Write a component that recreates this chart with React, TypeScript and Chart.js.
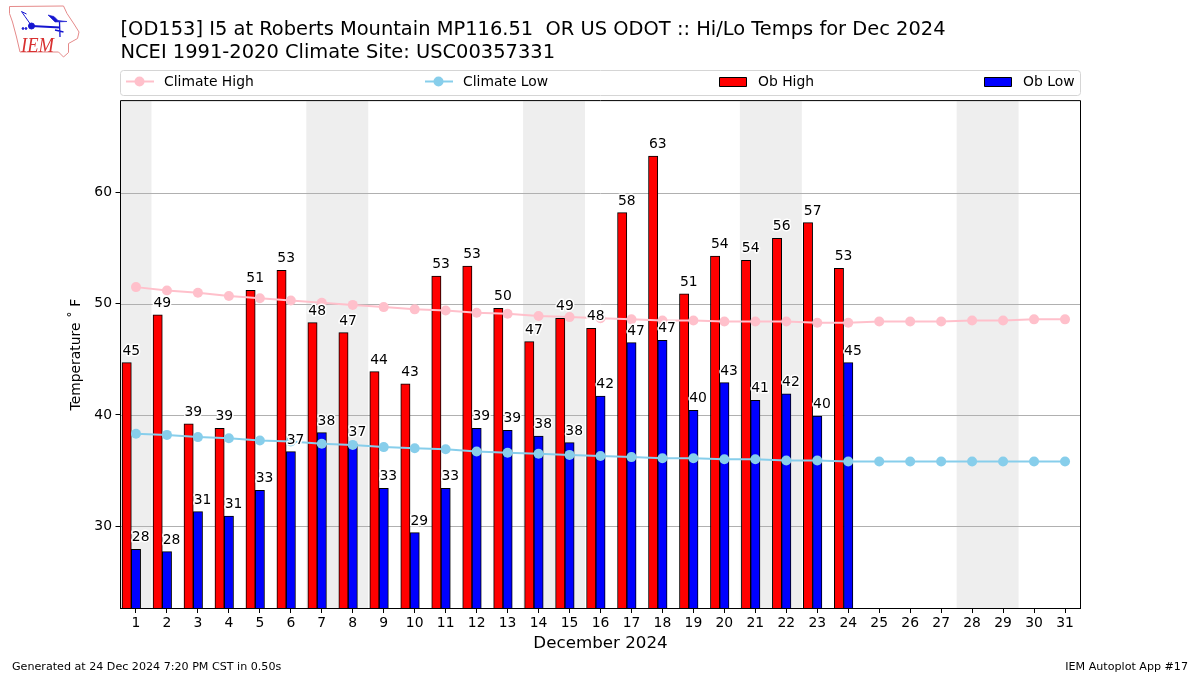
import React, { useEffect, useRef } from "react";
import { Chart, registerables } from "chart.js";

Chart.register(...registerables);

const FONT = "'DejaVu Sans'";
const titleLines = [
  "[OD153] I5 at Roberts Mountain MP116.51  OR US ODOT :: Hi/Lo Temps for Dec 2024",
  "NCEI 1991-2020 Climate Site: USC00357331",
];
const days = Array.from({ length: 31 }, (_, i) => i + 1);
const weekendRanges = [[0.5, 1.5], [6.5, 8.5], [13.5, 15.5], [20.5, 22.5], [27.5, 29.5]];
const yTicks = [30, 40, 50, 60];
const obHigh = [44.7, 49.0, 39.2, 38.8, 51.2, 53.0, 48.3, 47.4, 43.9, 42.8, 52.5, 53.4, 49.6, 46.6, 48.7, 47.8, 58.2, 63.3, 50.9, 54.3, 53.9, 55.9, 57.3, 53.2];
const obLow = [27.9, 27.7, 31.3, 30.9, 33.2, 36.7, 38.4, 37.4, 33.4, 29.4, 33.4, 38.8, 38.6, 38.1, 37.5, 41.7, 46.5, 46.7, 40.4, 42.9, 41.3, 41.9, 39.9, 44.7];
const climateHigh = [51.5, 51.2, 51.0, 50.7, 50.5, 50.3, 50.1, 49.9, 49.7, 49.5, 49.4, 49.2, 49.1, 48.9, 48.8, 48.7, 48.6, 48.5, 48.5, 48.4, 48.4, 48.4, 48.3, 48.3, 48.4, 48.4, 48.4, 48.5, 48.5, 48.6, 48.6];
const climateLow = [38.3, 38.2, 38.0, 37.9, 37.7, 37.6, 37.4, 37.3, 37.1, 37.0, 36.9, 36.7, 36.6, 36.5, 36.4, 36.3, 36.2, 36.1, 36.1, 36.0, 36.0, 35.9, 35.9, 35.8, 35.8, 35.8, 35.8, 35.8, 35.8, 35.8, 35.8];
const footerLeft = "Generated at 24 Dec 2024 7:20 PM CST in 0.50s";
const footerRight = "IEM Autoplot App #17";
const yRange = [22.62, 68.24];
const xRange = [0.5, 31.5];
const legendTextX = [164, 463, 758, 1023];
const legendKeyX = [126, 425, 719, 984];

const backgroundPlugin = {
  id: "weekends",
  beforeDatasetsDraw(chart: any) {
    const { ctx, chartArea, scales } = chart;
    ctx.save();
    ctx.fillStyle = "#eeeeee";
    for (const [a, b] of weekendRanges) {
      const x0 = scales.x.getPixelForValue(a);
      const x1 = scales.x.getPixelForValue(b);
      ctx.fillRect(x0, chartArea.top, x1 - x0, chartArea.bottom - chartArea.top);
    }
    // grid goes above the weekend shading
    ctx.strokeStyle = "#b0b0b0";
    ctx.lineWidth = 1;
    for (const t of yTicks) {
      const y = Math.round(scales.y.getPixelForValue(t)) + 0.5;
      ctx.beginPath();
      ctx.moveTo(chartArea.left, y);
      ctx.lineTo(chartArea.right, y);
      ctx.stroke();
    }
    ctx.restore();
  },
};

const overlayPlugin = {
  id: "overlay",
  afterDatasetsDraw(chart: any) {
    const { ctx, chartArea, scales } = chart;
    ctx.save();
    // value labels over the bars
    ctx.font = `13.9px ${FONT}`;
    ctx.textAlign = "center";
    ctx.textBaseline = "alphabetic";
    ctx.lineJoin = "round";
    chart.data.datasets.forEach((ds: any, di: number) => {
      if (ds.type !== "bar") return;
      const meta = chart.getDatasetMeta(di);
      meta.data.forEach((el: any, i: number) => {
        const px = scales.x.getPixelForValue(ds.data[i].x + 0.15);
        const py = el.y - 8;
        const txt = String(Math.round(ds.data[i].y));
        ctx.strokeStyle = "#ffffff";
        ctx.lineWidth = 3;
        ctx.strokeText(txt, px, py);
        ctx.fillStyle = "#000000";
        ctx.fillText(txt, px, py);
      });
    });
    // axes frame
    ctx.strokeStyle = "#000000";
    ctx.lineWidth = 1;
    ctx.strokeRect(chartArea.left, chartArea.top - 0.5, chartArea.right - chartArea.left, chartArea.bottom - chartArea.top + 1);

    // legend box
    const bx = 120.5, by = 70, bw = 960, bh = 25;
    ctx.strokeStyle = "#d5d5d5";
    ctx.beginPath();
    ctx.roundRect(bx, by + 0.5, bw, bh, 3);
    ctx.stroke();
    const cy = by + 11.5;
    ctx.font = `13.9px ${FONT}`;
    ctx.textAlign = "left";
    ctx.textBaseline = "alphabetic";
    chart.data.datasets.forEach((ds: any, i: number) => {
      const kx = legendKeyX[i];
      if (ds.type === "line") {
        ctx.strokeStyle = ds.borderColor;
        ctx.lineWidth = 2;
        ctx.beginPath();
        ctx.moveTo(kx, cy);
        ctx.lineTo(kx + 28, cy);
        ctx.stroke();
        ctx.fillStyle = ds.borderColor;
        ctx.beginPath();
        ctx.arc(kx + 13.5, cy, 5, 0, Math.PI * 2);
        ctx.fill();
      } else {
        ctx.fillStyle = ds.backgroundColor;
        ctx.fillRect(kx + 0.5, cy - 4, 27, 9);
        ctx.strokeStyle = "#000000";
        ctx.lineWidth = 1;
        ctx.strokeRect(kx + 0.5, cy - 4, 27, 9);
      }
      ctx.fillStyle = "#000000";
      ctx.fillText(ds.label, legendTextX[i], cy + 4.5);
    });

    // footers
    ctx.font = `11.12px ${FONT}`;
    ctx.fillStyle = "#000000";
    ctx.textAlign = "left";
    ctx.fillText(footerLeft, 12, 670);
    ctx.textAlign = "right";
    ctx.fillText(footerRight, 1188, 670);
    ctx.restore();
  },
};

function Logo() {
  return (
    <svg width={82} height={60} viewBox="0 0 82 60" style={{ position: "absolute", left: 0, top: 0 }}>
      <path
        d="M9.5 6.5 L63.5 6 L67 13.5 L74 24 L79 32 L77.5 38.5 L68.5 43.5 L68.5 52.5 L63.5 57 L58.5 52 L20 52 L16.5 37 L12.5 22 L9.5 13.5 Z"
        fill="none"
        stroke="#e58a8a"
        strokeWidth={1}
      />
      <g stroke="#1515d0" fill="#1515d0">
        <path d="M31.5 26 L60 27.5" strokeWidth={1.8} fill="none" />
        <circle cx={31.5} cy={26} r={3} />
        <path d="M48 15 L54 16.5 L58 20.5 L67 21.5 L55 22 Z" strokeWidth={0.6} />
        <path d="M31 25 L25 16.5 L21.5 11.5 M21.5 11.5 L26.5 14" strokeWidth={1} fill="none" />
        <path d="M59.5 22 L60 37 M55 30 L63.5 32" strokeWidth={1.3} fill="none" />
        <circle cx={23} cy={28.5} r={0.9} />
        <circle cx={26} cy={28.5} r={0.9} />
      </g>
      <text
        x={21}
        y={52}
        fontFamily="'Liberation Serif'"
        fontStyle="italic"
        fontSize={21}
        fill="#d83030"
        textLength={33}
        lengthAdjust="spacingAndGlyphs"
      >
        IEM
      </text>
    </svg>
  );
}

export default function App() {
  const ref = useRef<HTMLCanvasElement | null>(null);
  useEffect(() => {
    if (!ref.current) return;
    const chart = new Chart(ref.current, {
      type: "bar",
      plugins: [backgroundPlugin, overlayPlugin],
      data: {
        datasets: [
          {
            type: "line",
            label: "Climate High",
            data: days.map((d, i) => ({ x: d, y: climateHigh[i] })),
            borderColor: "#ffc0cb",
            backgroundColor: "#ffc0cb",
            borderWidth: 2,
            pointRadius: 5,
            pointBorderWidth: 0,
            order: 0,
          },
          {
            type: "line",
            label: "Climate Low",
            data: days.map((d, i) => ({ x: d, y: climateLow[i] })),
            borderColor: "#87ceeb",
            backgroundColor: "#87ceeb",
            borderWidth: 2,
            pointRadius: 5,
            pointBorderWidth: 0,
            order: 0,
          },
          {
            type: "bar",
            label: "Ob High",
            data: obHigh.map((v, i) => ({ x: days[i] - 0.3, y: v })),
            backgroundColor: "#ff0000",
            borderColor: "#000000",
            borderWidth: 1,
            borderSkipped: false,
            grouped: false,
            barPercentage: 1,
            categoryPercentage: 1,
            order: 1,
          },
          {
            type: "bar",
            label: "Ob Low",
            data: obLow.map((v, i) => ({ x: days[i], y: v })),
            backgroundColor: "#0000ff",
            borderColor: "#000000",
            borderWidth: 1,
            borderSkipped: false,
            grouped: false,
            barPercentage: 1,
            categoryPercentage: 1,
            order: 1,
          },
        ] as any,
      },
      options: {
        animation: false,
        responsive: false,
        maintainAspectRatio: false,
        layout: { padding: { left: 68.5, right: 119.5, top: 0, bottom: 20 } },
        plugins: {
          legend: { display: false },
          tooltip: { enabled: false },
          title: {
            display: true,
            text: titleLines,
            align: "start",
            fullSize: false,
            color: "#000000",
            font: { family: FONT, size: 19.45, weight: "normal", lineHeight: 1.16 },
            padding: { top: 19, bottom: 37 },
          },
        },
        scales: {
          x: {
            type: "linear",
            min: xRange[0],
            max: xRange[1],
            offset: false,
            afterBuildTicks: (s: any) => {
              s.ticks = days.map((v) => ({ value: v }));
            },
            afterFit: (s: any) => {
              s.height = 47;
            },
            grid: { offset: false, drawOnChartArea: false, tickLength: 5, tickColor: "#000000", tickWidth: 1 },
            border: { color: "#000000" },
            ticks: {
              autoSkip: false,
              maxRotation: 0,
              color: "#000000",
              padding: 2,
              font: { family: FONT, size: 13.9 },
              callback: (v: any) => String(v),
            },
            title: {
              display: true,
              text: "December 2024",
              color: "#000000",
              font: { family: FONT, size: 16.7 },
              padding: { top: 0, bottom: 1 },
            },
          },
          y: {
            min: yRange[0],
            max: yRange[1],
            afterBuildTicks: (s: any) => {
              s.ticks = yTicks.map((v) => ({ value: v }));
            },
            afterFit: (s: any) => {
              s.width = 52;
            },
            grid: { drawOnChartArea: false, tickLength: 5, tickColor: "#000000", tickWidth: 1 },
            border: { color: "#000000" },
            ticks: {
              color: "#000000",
              padding: 3.5,
              font: { family: FONT, size: 13.9 },
              callback: (v: any) => String(v),
            },
            title: {
              display: true,
              text: "Temperature ˚ F",
              color: "#000000",
              font: { family: FONT, size: 13.9 },
              padding: { top: 0, bottom: 0 },
            },
          },
        },
      } as any,
    });
    return () => chart.destroy();
  }, []);
  return (
    <div style={{ position: "absolute", left: 0, top: 0, width: 1200, height: 675, background: "#fff" }}>
      <canvas ref={ref} width={1200} height={675} style={{ display: "block" }} />
      <Logo />
    </div>
  );
}
